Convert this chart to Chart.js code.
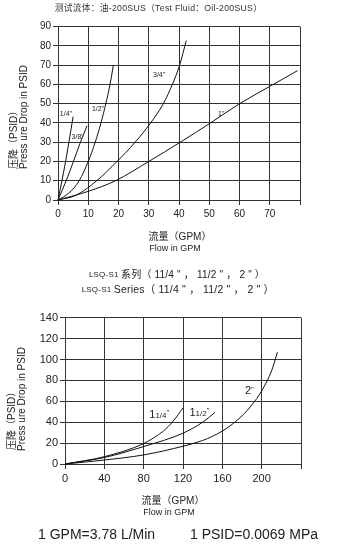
<!DOCTYPE html>
<html>
<head>
<meta charset="utf-8">
<script src="https://cdn.jsdelivr.net/npm/chart.js@4/dist/chart.umd.min.js"></script>
<style>
  html, body { margin: 0; padding: 0; background: #fff; width: 337px; height: 545px; overflow: hidden; }
  canvas { position: absolute; left: 0; }
  #smallChart { top: 0; }
  #largeChart { top: 260px; }
</style>
</head>
<body>
<canvas id="smallChart" width="337" height="260"></canvas>
<canvas id="largeChart" width="337" height="285"></canvas>
<script>
// ---- Small valve sizes: pressure drop (PSID) vs flow (GPM), oil 200SUS ----
const smallSizes = ['1/4"', '3/8"', '1/2"', '3/4"', '1"'];
const flow14 = [0, 1.3, 2.5, 3.6, 5.0];
const drop14 = [0, 10, 20, 30, 43.3];
const flow38 = [0, 2.7, 5.1, 7.3, 9.6];
const drop38 = [0, 10, 20, 29.5, 38.5];
const flow12 = [0, 3.5, 7, 10, 12.3, 14.2, 15.8, 17.2, 18.3];
const drop12 = [0, 3.5, 10, 20, 30, 40, 50, 60, 70];
const flow34 = [0, 6, 12.8, 19.5, 25.5, 30.6, 34.8, 37.8, 40.2, 42.4];
const drop34 = [0, 2.5, 10, 20, 30, 40, 50, 60, 70, 82.8];
const flow1 = [0, 10, 19, 30, 40.4, 50.4, 60, 70, 79.2];
const drop1 = [0, 4.5, 10, 20, 30, 40, 50, 59, 67.2];
const smallFlowTicks = [0, 10, 20, 30, 40, 50, 60, 70, 80];
const smallFlowLabels = ['0', '10', '20', '30', '40', '50', '60', '70', ''];
const smallDropTicks = [0, 10, 20, 30, 40, 50, 60, 70, 80, 90];

// ---- LSQ-S1 series: 1 1/4", 1 1/2", 2" ----
const largeSizes = ['1 1/4"', '1 1/2"', '2"'];
const flow114 = [0, 40, 80, 90, 100, 110, 120];
const drop114 = [0, 7, 19.5, 25, 31.5, 41, 53.6];
const flow112 = [0, 40, 80, 120, 140, 152.4];
const drop112 = [0, 6.2, 16.7, 29.5, 40, 49.3];
const flow2 = [0, 40, 80, 120, 140, 150, 160, 170, 180, 190, 200, 210, 216];
const drop2 = [0, 3.8, 8.7, 17, 22.5, 26.5, 31.5, 38, 46, 56.5, 70, 89, 107];
const largeFlowTicks = [0, 40, 80, 120, 160, 200, 240];
const largeFlowLabels = ['0', '40', '80', '120', '160', '200', ''];
const largeDropTicks = [0, 20, 40, 60, 80, 100, 120, 140];

const FONT = '"Liberation Sans", Arial, "Noto Sans CJK SC", sans-serif';
const INK = '#222';
const GRID = '#333';
Chart.defaults.font.family = FONT;
Chart.defaults.color = INK;

function pts(xs, ys) { return xs.map((x, i) => ({ x: x, y: ys[i] })); }
function curve(label, xs, ys) {
  return {
    label: label, data: pts(xs, ys), showLine: true, borderColor: '#111', borderWidth: 1,
    pointRadius: 0, cubicInterpolationMode: 'monotone', fill: false, clip: false
  };
}

// Draws titles, axis captions and curve labels; `at` anchors are in data units
function textLayer(items) {
  return {
    id: 'texts',
    afterDraw(chart) {
      const ctx = chart.ctx;
      const xs = chart.scales.x, ys = chart.scales.y;
      for (const it of items) {
        const runs = it.runs || [{ t: it.text, s: it.size }];
        ctx.save();
        ctx.letterSpacing = (it.spacing || 0) + 'px';
        let width = 0;
        for (const r of runs) { ctx.font = r.s + 'px ' + FONT; width += ctx.measureText(r.t).width; }
        let x0 = it.px, y0 = it.py;
        if (it.at) { x0 = xs.getPixelForValue(it.at[0]); y0 = ys.getPixelForValue(it.at[1]); }
        ctx.fillStyle = it.color || INK;
        ctx.translate(x0, y0);
        if (it.vertical) ctx.rotate(-Math.PI / 2);
        let cx = it.center ? -width / 2 : 0;
        ctx.textBaseline = 'middle';
        ctx.textAlign = 'left';
        for (const r of runs) {
          ctx.font = r.s + 'px ' + FONT;
          ctx.fillText(r.t, cx, r.dy || 0);
          cx += ctx.measureText(r.t).width;
        }
        ctx.restore();
      }
    }
  };
}

function axes(xTicks, xLabels, xMax, yTicks, yMax, yWidth, tickFont) {
  const grid = { color: GRID, lineWidth: 1, tickLength: 5, drawTicks: true };
  return {
    x: {
      type: 'linear', min: 0, max: xMax,
      afterBuildTicks: s => { s.ticks = xTicks.map(v => ({ value: v })); },
      afterFit: s => { s.height = 20; },
      ticks: { font: { size: tickFont }, padding: 3, maxRotation: 0, autoSkip: false,
               callback: (v, i) => xLabels[i] },
      grid: grid, border: { color: GRID, width: 1 }
    },
    y: {
      type: 'linear', min: 0, max: yMax,
      afterBuildTicks: s => { s.ticks = yTicks.map(v => ({ value: v })); },
      afterFit: s => { s.width = yWidth; },
      ticks: { font: { size: tickFont }, padding: 2, autoSkip: false },
      grid: grid, border: { color: GRID, width: 1 }
    }
  };
}

const smallTexts = [
  { text: '测试流体：油-200SUS（Test Fluid：Oil-200SUS）', size: 8.7, spacing: 0.3, px: 158.5, py: 9, center: true, color: '#333' },
  { text: '流量（GPM）', size: 10, px: 180, py: 237, center: true },
  { text: 'Flow in GPM', size: 9, px: 175, py: 249, center: true },
  { text: '压降（PSID）', size: 10, px: 14.5, py: 169, vertical: true },
  { text: 'Press ure Drop in PSID', size: 10, px: 24, py: 169, vertical: true },
  { text: smallSizes[0], size: 7, at: [0.6, 44.7] },
  { text: smallSizes[1], size: 7, at: [4.5, 32.7] },
  { text: smallSizes[2], size: 7, at: [11.2, 47.3] },
  { text: smallSizes[3], size: 7, at: [31.4, 65] },
  { text: smallSizes[4], size: 7, at: [52.9, 44.7] }
];

const largeTexts = [
  { runs: [{ t: 'LSQ-S1 ', s: 8 }, { t: '系列（ 11/4 " ， 11/2 " ， 2 " ）', s: 10 }], spacing: 0.2, px: 177, py: 15, center: true },
  { runs: [{ t: 'LSQ-S1 ', s: 8 }, { t: 'Series（ 11/4 " ， 11/2 " ， 2 " ）', s: 10.5 }], spacing: 0.2, px: 178, py: 30, center: true },
  { text: '流量（GPM）', size: 10, px: 173, py: 241.7, center: true },
  { text: 'Flow in GPM', size: 9, px: 169, py: 253, center: true },
  { text: '压降（PSID）', size: 10, px: 12.5, py: 190, vertical: true },
  { text: 'Press ure Drop in PSID', size: 10, px: 22.5, py: 191, vertical: true },
  { runs: [{ t: '1', s: 11 }, { t: '1/4', s: 8, dy: 1 }, { t: '"', s: 8, dy: -2 }], at: [85.7, 47.1] },
  { runs: [{ t: '1', s: 11 }, { t: '1/2', s: 8, dy: 1 }, { t: '"', s: 8, dy: -2 }], at: [126.5, 49.3] },
  { runs: [{ t: '2', s: 11 }, { t: '"', s: 8, dy: -2 }], at: [183, 69.5] },
  { text: '1 GPM=3.78 L/Min', size: 14, px: 38, py: 275 },
  { text: '1 PSID=0.0069 MPa', size: 14, px: 190, py: 275 }
];

new Chart(document.getElementById('smallChart'), {
  type: 'scatter',
  data: { datasets: [
    curve(smallSizes[0], flow14, drop14),
    curve(smallSizes[1], flow38, drop38),
    curve(smallSizes[2], flow12, drop12),
    curve(smallSizes[3], flow34, drop34),
    curve(smallSizes[4], flow1, drop1)
  ] },
  options: {
    responsive: false, animation: false, devicePixelRatio: 1,
    layout: { padding: { top: 26.7, right: 37, bottom: 40, left: 0 } },
    scales: axes(smallFlowTicks, smallFlowLabels, 80, smallDropTicks, 90, 58, 10),
    plugins: { legend: { display: false }, tooltip: { enabled: false } }
  },
  plugins: [textLayer(smallTexts)]
});

new Chart(document.getElementById('largeChart'), {
  type: 'scatter',
  data: { datasets: [
    curve(largeSizes[0], flow114, drop114),
    curve(largeSizes[1], flow112, drop112),
    curve(largeSizes[2], flow2, drop2)
  ] },
  options: {
    responsive: false, animation: false, devicePixelRatio: 1,
    layout: { padding: { top: 57.7, right: 36, bottom: 61, left: 0 } },
    scales: axes(largeFlowTicks, largeFlowLabels, 240, largeDropTicks, 140, 65, 11),
    plugins: { legend: { display: false }, tooltip: { enabled: false } }
  },
  plugins: [textLayer(largeTexts)]
});
</script>
</body>
</html>
